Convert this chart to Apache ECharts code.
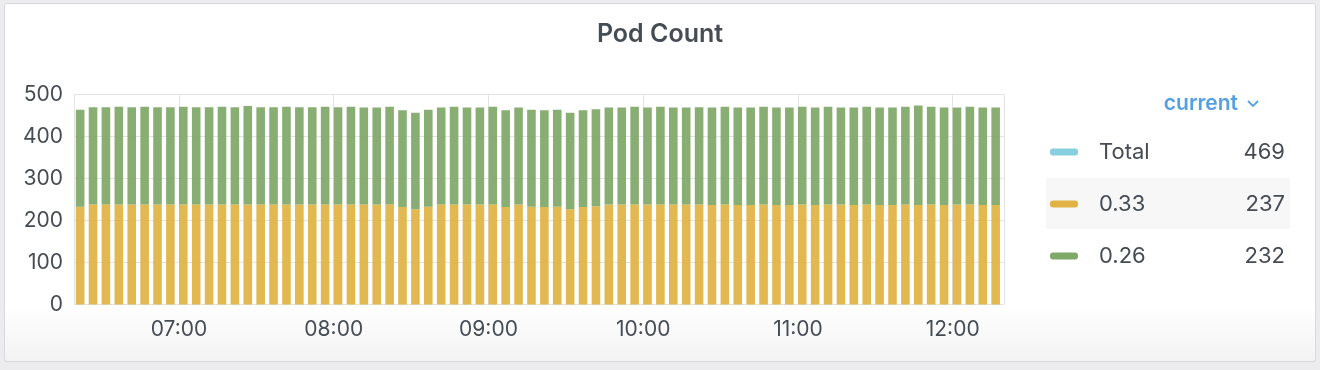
<!DOCTYPE html>
<html>
<head>
<meta charset="utf-8">
<script src="https://cdn.jsdelivr.net/npm/echarts@6/dist/echarts.min.js"></script>
<style>
  html, body { margin: 0; padding: 0; background: #ececee; }
  #panel { position: absolute; left: 4px; top: 3px; width: 1310px; height: 357px;
           border: 1px solid #d9dadd; border-radius: 3px;
           background: linear-gradient(to bottom, #ffffff 0%, #ffffff 84%, #f3f3f4 100%); }
  #chart { position: absolute; left: 0; top: 0; width: 1320px; height: 370px; }
</style>
</head>
<body>
<div id="panel"></div>
<div id="chart"></div>
<script>
// ---- data ----
const titleText = 'Pod Count';
const firstBarTime = Date.UTC(2021, 0, 1, 6, 20);   // 06:20, bars every 5 minutes
const stepMs = 5 * 60 * 1000;
const axisStart = Date.UTC(2021, 0, 1, 6, 19, 17);
const axisEnd = Date.UTC(2021, 0, 1, 12, 19, 54);
const seriesNames = ['Total', '0.33', '0.26'];
const seriesColors = ['#86cfdd', '#e0b344', '#80a868'];
const legendHeader = 'current';
const yTicks = [0, 100, 200, 300, 400, 500];

const values033 = [
  233, 238, 238, 238, 238, 238, 238, 238, 238, 238, 238, 238, 238, 238, 238, 238, 238, 238, 238, 238, 238, 238,
  238, 238, 238, 232, 227, 233, 238, 238, 238, 238, 238, 232, 238, 233, 232, 233, 227, 232, 234, 238, 238, 238,
  238, 238, 238, 238, 238, 237, 238, 237, 237, 238, 237, 237, 238, 237, 238, 238, 237, 238, 237, 237, 238, 237,
  238, 237, 238, 238, 237, 237
];
const values026 = [
  231, 232, 232, 233, 232, 233, 232, 232, 233, 232, 232, 233, 232, 235, 232, 232, 233, 232, 232, 233, 232, 233,
  231, 231, 233, 231, 230, 231, 231, 233, 231, 231, 233, 231, 231, 231, 231, 231, 230, 231, 231, 231, 231, 233,
  231, 233, 231, 231, 232, 232, 233, 232, 232, 233, 232, 232, 233, 232, 233, 231, 232, 233, 232, 232, 233, 237,
  233, 232, 231, 233, 232, 232
];

// ---- build ----
const times = values033.map((_, i) => firstBarTime + i * stepMs);
const totals = values033.map((v, i) => v + values026[i]);
const barMs = stepMs / 1.5;

const yellowData = times.map((t, i) => [t, 0, values033[i]]);
const greenData = times.map((t, i) => [t, values033[i], values033[i] + values026[i]]);

function pad(n) { return (n < 10 ? '0' : '') + n; }

function renderBar(params, api) {
  const t = api.value(0), lo = api.value(1), hi = api.value(2);
  const p0 = api.coord([t, lo]);
  const p1 = api.coord([t + barMs, hi]);
  return {
    type: 'rect',
    shape: { x: p0[0], y: p1[1], width: p1[0] - p0[0], height: p0[1] - p1[1] },
    style: { fill: api.visual('color'), opacity: 0.93 }
  };
}

const textColor = '#464c54';
const fontFamily = 'Inter, Roboto, sans-serif';

const currentValues = [totals[totals.length - 1], values033[values033.length - 1], values026[values026.length - 1]];
const legendRowY = [152, 204, 256];

const graphics = [
  { type: 'rect', left: 1046, top: 178, shape: { width: 244, height: 51 }, style: { fill: '#f7f7f8' }, z: 1 },
  { type: 'text', x: 1238, y: 104, style: { text: legendHeader, fill: '#56a0e2', font: '600 21px ' + fontFamily, textAlign: 'right', textVerticalAlign: 'middle' }, z: 5 },
  { type: 'polyline', shape: { points: [[1248, 101], [1253, 106], [1258, 101]] }, style: { stroke: '#56a0e2', lineWidth: 1.8, fill: null }, z: 5 }
];
seriesNames.forEach((name, i) => {
  const y = legendRowY[i];
  graphics.push({ type: 'rect', shape: { x: 1050, y: y - 3.5, width: 28, height: 7, r: 3 }, style: { fill: seriesColors[i] }, z: 5 });
  graphics.push({ type: 'text', x: 1099, y: y, style: { text: name, fill: textColor, font: '22px ' + fontFamily, textVerticalAlign: 'middle' }, z: 5 });
  graphics.push({ type: 'text', x: 1285, y: y, style: { text: String(currentValues[i]), fill: textColor, font: '22px ' + fontFamily, textAlign: 'right', textVerticalAlign: 'middle' }, z: 5 });
});

const chart = echarts.init(document.getElementById('chart'), null, { renderer: 'canvas' });
chart.setOption({
  backgroundColor: 'transparent',
  animation: false,
  title: {
    text: titleText, left: 'center', top: 17,
    textStyle: { fontFamily: fontFamily, fontSize: 25, fontWeight: 600, color: '#464c54' }
  },
  grid: { left: 74, right: 316, top: 94.6, bottom: 65.6, containLabel: false },
  xAxis: {
    type: 'time', min: axisStart, max: axisEnd,
    minInterval: 3600 * 1000, maxInterval: 3600 * 1000,
    axisLine: { show: false }, axisTick: { show: false },
    splitLine: { show: true, lineStyle: { color: '#e3e3e3', width: 1 } },
    axisLabel: {
      color: textColor, fontFamily: fontFamily, fontSize: 21, margin: 15,
      formatter: function (v) { const d = new Date(v); return pad(d.getUTCHours()) + ':' + pad(d.getUTCMinutes()); }
    }
  },
  yAxis: {
    type: 'value', min: yTicks[0], max: yTicks[yTicks.length - 1], interval: 100,
    axisLine: { show: false }, axisTick: { show: false },
    splitLine: { show: true, lineStyle: { color: '#e3e3e3', width: 1 } },
    axisLabel: { color: textColor, fontFamily: fontFamily, fontSize: 21, margin: 11 }
  },
  series: [
    { name: seriesNames[1], type: 'custom', renderItem: renderBar, data: yellowData, encode: { x: 0, y: [1, 2] }, itemStyle: { color: seriesColors[1] }, z: 3 },
    { name: seriesNames[2], type: 'custom', renderItem: renderBar, data: greenData, encode: { x: 0, y: [1, 2] }, itemStyle: { color: seriesColors[2] }, z: 3 }
  ],
  graphic: { elements: graphics }
});
</script>
</body>
</html>
